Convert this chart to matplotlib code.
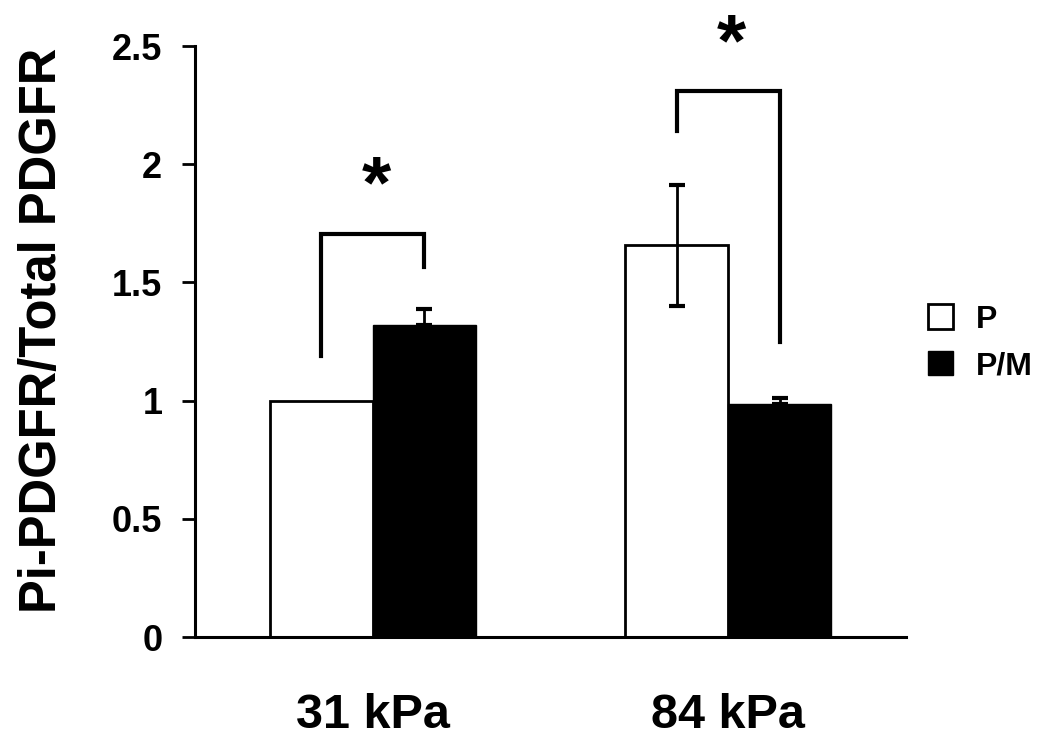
import numpy as np
import matplotlib
matplotlib.use("Agg")
import matplotlib.pyplot as plt
from matplotlib.patches import Patch

plt.rcParams['font.family'] = ['Liberation Sans', 'DejaVu Sans']

# data
groups = ["31 kPa", "84 kPa"]
series = ["P", "P/M"]
p_vals = [1.0, 1.658]
pm_vals = [1.322, 0.986]
p_err = [0.0, 0.256]
pm_err = [0.065, 0.025]

# significance brackets: (left foot, top, right foot)
brackets = [(1.19, 1.705, 1.565), (2.14, 2.31, 1.248)]
star_y = [1.9, 2.5]

fig = plt.figure(figsize=(10.5, 7.52), dpi=100)
ax = fig.add_axes([0.1857, 0.1529, 0.6771, 0.7859])

x = np.arange(len(groups))
bw = 0.29

ax.bar(x - bw / 2, p_vals, bw, color="white", edgecolor="black", linewidth=2)
ax.bar(x + bw / 2, pm_vals, bw, color="black", edgecolor="black", linewidth=1)

# error bars (P only has an error on the 84 kPa group)
ax.errorbar(x[1] - bw / 2, p_vals[1], yerr=p_err[1], fmt="none", ecolor="black",
            elinewidth=2, capsize=6, capthick=3)
ax.errorbar(x + bw / 2, pm_vals, yerr=[np.zeros(2), pm_err], fmt="none",
            ecolor="black", elinewidth=2, capsize=6, capthick=3)

for i, (yl, yt, yr) in enumerate(brackets):
    xl, xr = x[i] - bw / 2, x[i] + bw / 2
    ax.plot([xl, xl, xr, xr], [yl, yt, yt, yr], color="black", lw=3,
            solid_joinstyle="miter", clip_on=False)
    ax.text(x[i] + 0.01, star_y[i], "*", ha="center", va="center",
            fontsize=54, fontweight="bold", clip_on=False)

ax.set_xlim(-0.5, 1.5)
ax.set_ylim(0, 2.5)
ax.set_yticks([0, 0.5, 1, 1.5, 2, 2.5])
ax.set_yticklabels(["0", "0.5", "1", "1.5", "2", "2.5"])
ax.set_xticks(x)
ax.set_xticklabels(groups)

for lbl in ax.get_yticklabels():
    lbl.set_fontsize(26)
    lbl.set_fontweight("bold")
for lbl in ax.get_xticklabels():
    lbl.set_fontsize(35)
    lbl.set_fontweight("bold")

ax.tick_params(axis="y", direction="out", length=9.5, width=2, pad=14)
ax.tick_params(axis="x", length=0, pad=40)

ax.spines["top"].set_visible(False)
ax.spines["right"].set_visible(False)
ax.spines["left"].set_linewidth(2.2)
ax.spines["bottom"].set_linewidth(2.2)

ax.set_ylabel("Pi-PDGFR/Total PDGFR", fontsize=36.5, fontweight="bold")
ax.yaxis.set_label_coords(-0.18, 0.519)

handles = [Patch(facecolor="white", edgecolor="black", linewidth=2),
           Patch(facecolor="black", edgecolor="black")]
ax.legend(handles, series, loc="center left", bbox_to_anchor=(0.99, 0.498),
          frameon=False, prop={"size": 23, "weight": "bold"},
          handlelength=0.8, handleheight=0.8, handletextpad=0.7,
          labelspacing=0.5)

fig.savefig("out.png", dpi=100)
